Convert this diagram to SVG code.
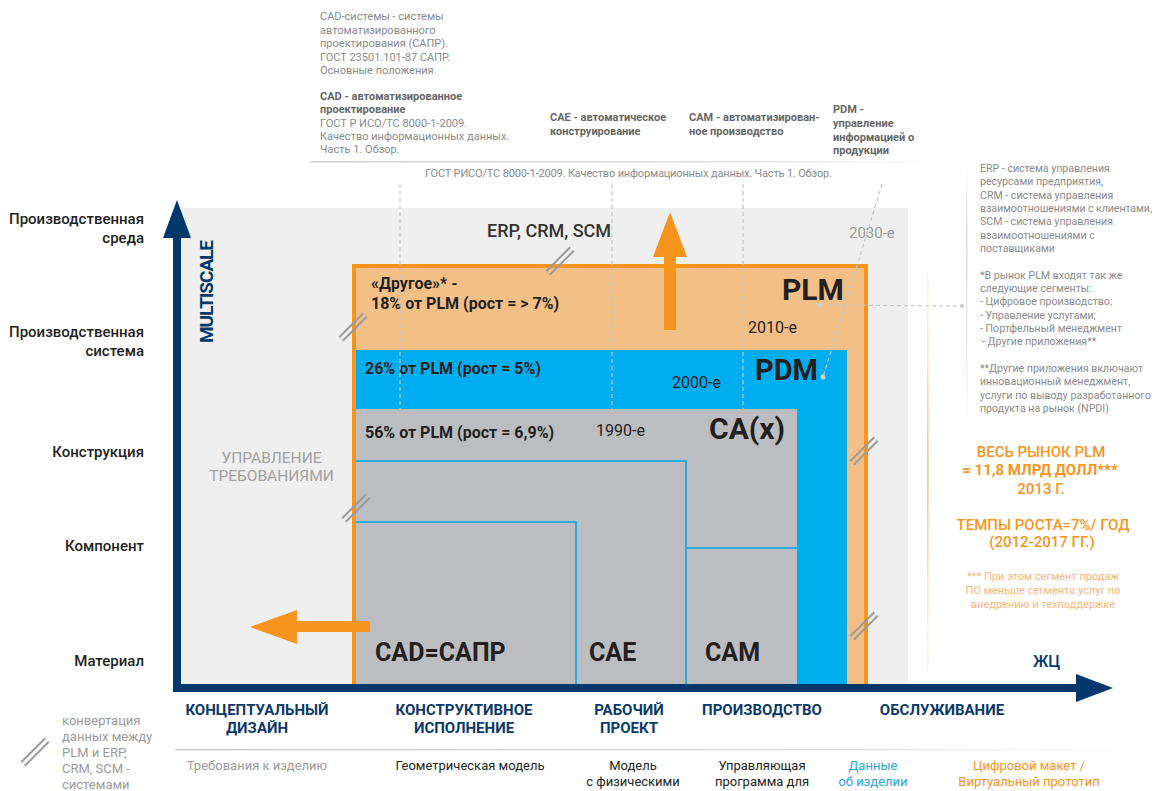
<svg xmlns="http://www.w3.org/2000/svg" width="1155" height="791" viewBox="0 0 1155 791">
<defs>
<style>
text{font-family:Roboto,"Liberation Sans",sans-serif}
.note{font-size:11px;fill:#8a8a8a}
.rn{font-size:10.6px;fill:#8a8a8a}
.noteb{font-size:11px;font-weight:700;fill:#666}
.lab{font-size:15px;font-weight:500;fill:#231f20;text-anchor:end}
.phase{font-size:15px;font-weight:700;fill:#0b3a6a;text-anchor:middle}
.desc{font-size:13px;text-anchor:middle}
.pct{font-size:16px;font-weight:700;fill:#231f20}
.era{font-size:16px;fill:#231f20}
.big{font-weight:700;fill:#231f20}
.dash{stroke:#c6c6c6;stroke-width:1.2;stroke-dasharray:4 3;fill:none}
.sl{stroke:#9a9a9a;stroke-width:2}
.blu{stroke:#29abe2;stroke-width:2;fill:none}
.org{fill:#f7941d}
.ot{fill:#f7941d;text-anchor:middle;font-size:15px;font-weight:500}
</style>
<g id="slash"><line class="sl" x1="-13.8" y1="10.2" x2="10.2" y2="-13.8"/><line class="sl" x1="-10.2" y1="13.8" x2="13.8" y2="-10.2"/></g>
<linearGradient id="gH" x1="0" x2="1" y1="0" y2="0"><stop offset="0" stop-color="#d0d0d0"/><stop offset="0.7" stop-color="#e0e0e0"/><stop offset="1" stop-color="#e0e0e0" stop-opacity="0"/></linearGradient>
<linearGradient id="gV" x1="0" x2="0" y1="0" y2="1"><stop offset="0" stop-color="#e6e6e6" stop-opacity="0"/><stop offset="0.3" stop-color="#dcdcdc"/><stop offset="1" stop-color="#e6e6e6" stop-opacity="0.3"/></linearGradient>
<linearGradient id="gO" x1="0" x2="0" y1="0" y2="1"><stop offset="0" stop-color="#f7941d" stop-opacity="0"/><stop offset="0.5" stop-color="#f7941d" stop-opacity="0.6"/><stop offset="1" stop-color="#f7941d" stop-opacity="0"/></linearGradient>
</defs>
<rect width="1155" height="791" fill="#fff"/>

<!-- top notes -->
<g id="note-cad">
<text class="note" x="320" y="20">CAD-системы - системы</text>
<text class="note" x="320" y="33.5">автоматизированного</text>
<text class="note" x="320" y="47">проектирования (САПР).</text>
<text class="note" x="320" y="60.5">ГОСТ 23501.101-87 САПР.</text>
<text class="note" x="320" y="74">Основные положения.</text>
<text class="noteb" x="320" y="100">CAD - автоматизированное</text>
<text class="noteb" x="320" y="113">проектирование</text>
<text class="note" x="320" y="126.5">ГОСТ Р ИСО/ТС 8000-1-2009.</text>
<text class="note" x="320" y="140">Качество информационных данных.</text>
<text class="note" x="320" y="153">Часть 1. Обзор.</text>
</g>
<g id="note-cae">
<text class="noteb" x="550" y="121">CAE - автоматическое</text>
<text class="noteb" x="550" y="134.5">конструирование</text>
</g>
<g id="note-cam">
<text class="noteb" x="689" y="121">CAM - автоматизирован-</text>
<text class="noteb" x="689" y="134.5">ное производство</text>
</g>
<g id="note-pdm">
<text class="noteb" x="833" y="113">PDM -</text>
<text class="noteb" x="833" y="127">управление</text>
<text class="noteb" x="833" y="141">информацией о</text>
<text class="noteb" x="833" y="154">продукции</text>
</g>
<rect x="310" y="161" width="630" height="1.5" fill="url(#gH)"/>
<g id="note-gost"><text class="note" x="425" y="177" textLength="407">ГОСТ РИСО/ТС 8000-1-2009.  Качество информационных данных. Часть 1. Обзор.</text></g>

<!-- right notes -->
<rect x="966" y="160" width="1.6" height="256" fill="url(#gV)"/>
<g id="note-right">
<text class="rn" x="980" y="172">ERP - система управления</text>
<text class="rn" x="980" y="185.3">ресурсами предприятия,</text>
<text class="rn" x="980" y="198.6">CRM - система управления</text>
<text class="rn" x="980" y="212" textLength="172">взаимоотношениями с клиентами,</text>
<text class="rn" x="980" y="225.3">SCM - система управления</text>
<text class="rn" x="980" y="238.6">взаимоотношениями с</text>
<text class="rn" x="980" y="252">поставщиками</text>
<text class="rn" x="980" y="278.6">*В рынок PLM входят так же</text>
<text class="rn" x="980" y="292">следующие сегменты:</text>
<text class="rn" x="980" y="305.3">- Цифровое производство;</text>
<text class="rn" x="980" y="318.6">- Управление услугами;</text>
<text class="rn" x="980" y="332">- Портфельный менеджмент</text>
<text class="rn" x="982" y="345.3">- Другие  приложения**</text>
<text class="rn" x="980" y="372">**Другие приложения включают</text>
<text class="rn" x="980" y="385.3">инновационный менеджмент,</text>
<text class="rn" x="980" y="398.6" textLength="171">услуги по выводу разработанного</text>
<text class="rn" x="980" y="412">продукта на рынок (NPDI)</text>
</g>

<g id="market">
<text class="ot" x="1041" y="457">ВЕСЬ РЫНОК PLM</text>
<text class="ot" x="1040" y="475" style="font-weight:700">= 11,8 МЛРД ДОЛЛ***</text>
<text class="ot" x="1041" y="494">2013 Г.</text>
<text class="ot" x="1043" y="530">ТЕМПЫ РОСТА=7%/ ГОД</text>
<text class="ot" x="1042" y="547">(2012-2017 ГГ.)</text>
<text x="1043" y="580" style="font-size:11px;fill:#f9b57c;text-anchor:middle">*** При этом сегмент продаж</text>
<text x="1043" y="594" style="font-size:11px;fill:#f9b57c;text-anchor:middle">ПО меньше сегмента услуг по</text>
<text x="1043" y="608" style="font-size:11px;fill:#f9b57c;text-anchor:middle">внедрению и техподдержке</text>
</g>
<rect x="927" y="255" width="1.6" height="435" fill="url(#gO)"/>

<!-- chart background -->
<g id="env">
<rect x="181" y="208" width="727" height="476" fill="#efefef"/>
<text x="849" y="238" style="font-size:15px;fill:#9a9a9a">2030-е</text>
<text x="487" y="237" style="font-size:18px;font-weight:500;fill:#333">ERP, CRM, SCM</text>
<text x="271.5" y="463" style="font-size:15.5px;fill:#a0a0a0;text-anchor:middle">УПРАВЛЕНИЕ</text>
<text x="271.5" y="481" style="font-size:15.5px;fill:#a0a0a0;text-anchor:middle">ТРЕБОВАНИЯМИ</text>
</g>

<g id="plm">
<rect x="354" y="266" width="512" height="422" fill="#f2bf87" stroke="#f7941d" stroke-width="4"/>
<text class="pct" x="371" y="289">«Другое»* -</text>
<text class="pct" x="371" y="309">18% от PLM (рост = &gt; 7%)</text>
<text class="big" x="782" y="300" style="font-size:30px">PLM</text>
<text class="era" x="748" y="333">2010-е</text>
</g>

<g id="pdm">
<rect x="356" y="350" width="491" height="334" fill="#00aeef"/>
<text class="pct" x="365" y="374">26% от PLM (рост = 5%)</text>
<text class="era" x="672" y="388">2000-е</text>
<text class="big" x="755" y="380" style="font-size:29px">PDM</text>
</g>

<g id="cax">
<rect x="356" y="409" width="441" height="275" fill="#bcbdc1"/>
<text class="pct" x="365" y="438">56% от PLM (рост = 6,9%)</text>
<text class="era" x="596" y="436">1990-е</text>
<text class="big" x="709" y="439" style="font-size:30px">CA(x)</text>
</g>

<g id="cad">
<polyline class="blu" points="356,522 576,522 576,684"/>
<text class="big" x="375" y="661" style="font-size:25px">CAD=САПР</text>
</g>
<g id="cae">
<polyline class="blu" points="356,461 686,461 686,684"/>
<text class="big" x="589" y="661" style="font-size:25px">CAE</text>
</g>
<g id="cam">
<line class="blu" x1="686" y1="548" x2="797" y2="548"/>
<text class="big" x="705" y="661" style="font-size:25px">CAM</text>
</g>

<!-- connectors -->
<g id="connectors">
<line class="dash" x1="400" y1="184" x2="400" y2="409"/>
<line class="dash" x1="612" y1="184" x2="612" y2="409"/>
<line class="dash" x1="743" y1="184" x2="743" y2="409"/>
<line class="dash" x1="882" y1="184" x2="823" y2="377"/>
<circle cx="823" cy="377" r="2.5" fill="#d0d0d0"/>
<line class="dash" x1="820" y1="305" x2="960" y2="306"/>
<circle cx="820" cy="305" r="2.5" fill="#d0d0d0"/>
<circle cx="962" cy="306" r="2" fill="#c6c6c6"/>
</g>

<!-- slashes -->
<g id="slashes">
<use href="#slash" x="353" y="327"/>
<use href="#slash" x="560" y="261"/>
<use href="#slash" x="356" y="508"/>
<use href="#slash" x="864" y="451"/>
<use href="#slash" x="864" y="626"/>
</g>

<!-- arrows -->
<g id="arrow-up">
<rect x="664" y="255" width="12" height="75" class="org"/>
<polygon points="670,212 653,257 687,257" class="org"/>
</g>
<g id="arrow-left">
<rect x="295" y="621" width="75" height="11" class="org"/>
<polygon points="250,627 297,610 297,644" class="org"/>
</g>

<!-- axes -->
<g id="axes">
<rect x="173" y="236" width="8" height="456" fill="#00386b"/>
<polygon points="177,200 163,238 191,238" fill="#00386b"/>
<rect x="173" y="684" width="905" height="8" fill="#00386b"/>
<polygon points="1076,674 1113,688 1076,702" fill="#00386b"/>
<text transform="translate(213,343) rotate(-90)" textLength="103" style="font-size:19px;font-weight:700;fill:#00386b">MULTISCALE</text>
<text x="1033" y="667" style="font-size:16px;font-weight:500;fill:#00386b">ЖЦ</text>
</g>

<g id="scale-labels">
<text class="lab" x="144" y="224">Производственная</text>
<text class="lab" x="144" y="243">среда</text>
<text class="lab" x="144" y="337">Производственная</text>
<text class="lab" x="144" y="356">система</text>
<text class="lab" x="144" y="457">Конструкция</text>
<text class="lab" x="144" y="551">Компонент</text>
<text class="lab" x="144" y="666">Материал</text>
</g>

<g id="phases">
<text class="phase" x="257" y="715">КОНЦЕПТУАЛЬНЫЙ</text>
<text class="phase" x="257" y="733">ДИЗАЙН</text>
<text class="phase" x="464" y="715">КОНСТРУКТИВНОЕ</text>
<text class="phase" x="464" y="733">ИСПОЛНЕНИЕ</text>
<text class="phase" x="629" y="715">РАБОЧИЙ</text>
<text class="phase" x="629" y="733">ПРОЕКТ</text>
<text class="phase" x="762" y="715">ПРОИЗВОДСТВО</text>
<text class="phase" x="942" y="715">ОБСЛУЖИВАНИЕ</text>
</g>
<rect x="175" y="749" width="965" height="1.5" fill="url(#gH)"/>

<g id="outputs">
<text class="desc" x="257" y="770" style="fill:#9a9a9a">Требования к изделию</text>
<text class="desc" x="470" y="770" style="fill:#231f20">Геометрическая модель</text>
<text class="desc" x="633" y="770" style="fill:#231f20">Модель</text>
<text class="desc" x="633" y="786" style="fill:#231f20">с физическими</text>
<text class="desc" x="762" y="770" style="fill:#231f20">Управляющая</text>
<text class="desc" x="762" y="786" style="fill:#231f20">программа для</text>
<text class="desc" x="873" y="770" style="fill:#29a3dd">Данные</text>
<text class="desc" x="873" y="786" style="fill:#29a3dd">об изделии</text>
<text class="desc" x="1029" y="770" style="fill:#f7941d">Цифровой макет /</text>
<text class="desc" x="1029" y="786" style="fill:#f7941d">Виртуальный прототип</text>
</g>

<g id="legend">
<use href="#slash" x="35" y="752"/>
<text x="62" y="725" style="font-size:13px;fill:#9a9a9a">конвертация</text>
<text x="62" y="741" style="font-size:13px;fill:#9a9a9a">данных между</text>
<text x="62" y="757" style="font-size:13px;fill:#9a9a9a">PLM и ERP,</text>
<text x="62" y="773" style="font-size:13px;fill:#9a9a9a">CRM, SCM -</text>
<text x="62" y="789" style="font-size:13px;fill:#9a9a9a">системами</text>
</g>
</svg>
